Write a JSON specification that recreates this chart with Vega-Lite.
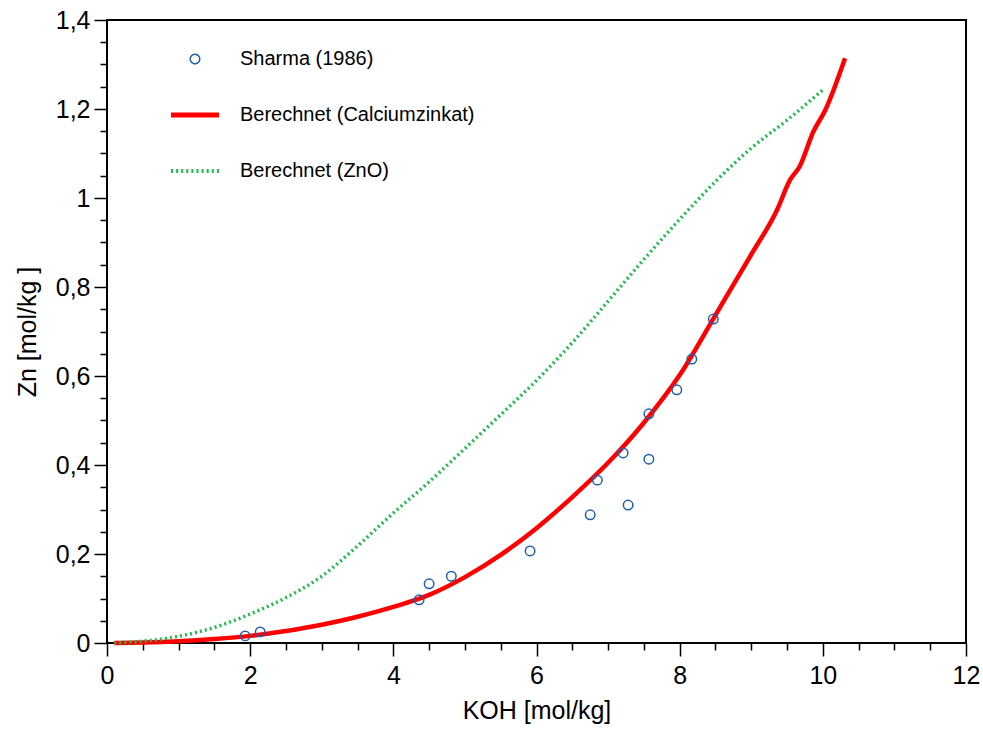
{
  "$schema": "https://vega.github.io/schema/vega-lite/v6.json",
  "width": 859,
  "height": 623,
  "autosize": {"type": "none"},
  "padding": {"left": 107, "top": 20, "right": 17, "bottom": 86},
  "background": "white",
  "config": {
    "view": {"stroke": "black", "strokeWidth": 2},
    "font": "Liberation Sans",
    "axis": {"labelFont": "Liberation Sans", "titleFont": "Liberation Sans", "labelColor": "black", "titleColor": "black", "tickColor": "black", "grid": false, "titleFontWeight": "normal"}
  },
  "data": {
    "values": [
      {"series": "Sharma (1986)", "koh": 1.93, "zn": 0.016},
      {"series": "Sharma (1986)", "koh": 2.14, "zn": 0.025},
      {"series": "Sharma (1986)", "koh": 4.36, "zn": 0.097},
      {"series": "Sharma (1986)", "koh": 4.50, "zn": 0.133},
      {"series": "Sharma (1986)", "koh": 4.81, "zn": 0.150},
      {"series": "Sharma (1986)", "koh": 5.91, "zn": 0.207},
      {"series": "Sharma (1986)", "koh": 6.75, "zn": 0.288},
      {"series": "Sharma (1986)", "koh": 6.85, "zn": 0.366},
      {"series": "Sharma (1986)", "koh": 7.21, "zn": 0.427},
      {"series": "Sharma (1986)", "koh": 7.28, "zn": 0.310},
      {"series": "Sharma (1986)", "koh": 7.57, "zn": 0.515},
      {"series": "Sharma (1986)", "koh": 7.57, "zn": 0.413},
      {"series": "Sharma (1986)", "koh": 7.96, "zn": 0.569},
      {"series": "Sharma (1986)", "koh": 8.17, "zn": 0.638},
      {"series": "Sharma (1986)", "koh": 8.47, "zn": 0.728},

      {"series": "Berechnet (Calciumzinkat)", "koh": 0.1, "zn": 0.0},
      {"series": "Berechnet (Calciumzinkat)", "koh": 0.5, "zn": 0.001},
      {"series": "Berechnet (Calciumzinkat)", "koh": 1.0, "zn": 0.004},
      {"series": "Berechnet (Calciumzinkat)", "koh": 1.5, "zn": 0.009},
      {"series": "Berechnet (Calciumzinkat)", "koh": 2.0, "zn": 0.016},
      {"series": "Berechnet (Calciumzinkat)", "koh": 2.5, "zn": 0.027},
      {"series": "Berechnet (Calciumzinkat)", "koh": 3.0, "zn": 0.041},
      {"series": "Berechnet (Calciumzinkat)", "koh": 3.5, "zn": 0.059},
      {"series": "Berechnet (Calciumzinkat)", "koh": 4.0, "zn": 0.081},
      {"series": "Berechnet (Calciumzinkat)", "koh": 4.5, "zn": 0.108},
      {"series": "Berechnet (Calciumzinkat)", "koh": 5.0, "zn": 0.148},
      {"series": "Berechnet (Calciumzinkat)", "koh": 5.5, "zn": 0.198},
      {"series": "Berechnet (Calciumzinkat)", "koh": 6.0, "zn": 0.258},
      {"series": "Berechnet (Calciumzinkat)", "koh": 6.5, "zn": 0.328},
      {"series": "Berechnet (Calciumzinkat)", "koh": 7.0, "zn": 0.405},
      {"series": "Berechnet (Calciumzinkat)", "koh": 7.5, "zn": 0.495},
      {"series": "Berechnet (Calciumzinkat)", "koh": 8.0, "zn": 0.602},
      {"series": "Berechnet (Calciumzinkat)", "koh": 8.5, "zn": 0.737},
      {"series": "Berechnet (Calciumzinkat)", "koh": 9.0, "zn": 0.873},
      {"series": "Berechnet (Calciumzinkat)", "koh": 9.36, "zn": 0.973},
      {"series": "Berechnet (Calciumzinkat)", "koh": 9.54, "zn": 1.040},
      {"series": "Berechnet (Calciumzinkat)", "koh": 9.68, "zn": 1.072},
      {"series": "Berechnet (Calciumzinkat)", "koh": 9.87, "zn": 1.150},
      {"series": "Berechnet (Calciumzinkat)", "koh": 10.03, "zn": 1.196},
      {"series": "Berechnet (Calciumzinkat)", "koh": 10.31, "zn": 1.314},

      {"series": "Berechnet (ZnO)", "koh": 0.1, "zn": 0.0},
      {"series": "Berechnet (ZnO)", "koh": 0.5, "zn": 0.004},
      {"series": "Berechnet (ZnO)", "koh": 1.0, "zn": 0.015},
      {"series": "Berechnet (ZnO)", "koh": 1.5, "zn": 0.035},
      {"series": "Berechnet (ZnO)", "koh": 2.0, "zn": 0.065},
      {"series": "Berechnet (ZnO)", "koh": 2.5, "zn": 0.102},
      {"series": "Berechnet (ZnO)", "koh": 3.0, "zn": 0.150},
      {"series": "Berechnet (ZnO)", "koh": 3.5, "zn": 0.218},
      {"series": "Berechnet (ZnO)", "koh": 4.0, "zn": 0.292},
      {"series": "Berechnet (ZnO)", "koh": 4.5, "zn": 0.362},
      {"series": "Berechnet (ZnO)", "koh": 5.0, "zn": 0.437},
      {"series": "Berechnet (ZnO)", "koh": 5.5, "zn": 0.513},
      {"series": "Berechnet (ZnO)", "koh": 6.0, "zn": 0.590},
      {"series": "Berechnet (ZnO)", "koh": 6.5, "zn": 0.675},
      {"series": "Berechnet (ZnO)", "koh": 7.0, "zn": 0.768},
      {"series": "Berechnet (ZnO)", "koh": 7.5, "zn": 0.862},
      {"series": "Berechnet (ZnO)", "koh": 8.0, "zn": 0.952},
      {"series": "Berechnet (ZnO)", "koh": 8.5, "zn": 1.037},
      {"series": "Berechnet (ZnO)", "koh": 9.0, "zn": 1.112},
      {"series": "Berechnet (ZnO)", "koh": 9.5, "zn": 1.175},
      {"series": "Berechnet (ZnO)", "koh": 10.0, "zn": 1.243}
    ]
  },
  "resolve": {"axis": {"x": "independent", "y": "independent"}},
  "layer": [
    {
      "transform": [{"filter": "datum.series === 'Berechnet (Calciumzinkat)'"}],
      "mark": {"type": "line", "strokeWidth": 4.5, "interpolate": "monotone"},
      "encoding": {
        "x": {"field": "koh", "type": "quantitative", "scale": {"domain": [0, 12], "nice": false},
              "axis": {"orient": "bottom", "values": [0, 2, 4, 6, 8, 10, 12], "title": "KOH [mol/kg]", "titleFontSize": 25, "labelFontSize": 25, "tickSize": 13, "tickWidth": 1.5, "labelPadding": 7, "titlePadding": 10, "domain": false, "labelFlush": false}},
        "y": {"field": "zn", "type": "quantitative", "scale": {"domain": [0, 1.4], "nice": false},
              "axis": {"orient": "left", "values": [0, 0.2, 0.4, 0.6, 0.8, 1, 1.2, 1.4], "title": "Zn [mol/kg ]", "titleFontSize": 25, "labelFontSize": 25, "tickSize": 13, "tickWidth": 1.5, "labelPadding": 4, "titlePadding": 15, "domain": false, "labelFlush": false,
                       "labelExpr": "replace(format(datum.value, '~g'), '.', ',')"}},
        "color": {"field": "series", "type": "nominal",
                  "scale": {"domain": ["Sharma (1986)", "Berechnet (Calciumzinkat)", "Berechnet (ZnO)"], "range": ["#1f5fb0", "#ff0000", "#1fba4a"]},
                  "legend": {
                    "orient": "none", "legendX": 78, "legendY": 29, "title": null, "padding": 0,
                    "labelFontSize": 20, "labelFont": "Liberation Sans", "labelColor": "black", "labelOffset": 35, "rowPadding": 36, "labelLimit": 0,
                    "symbolType": "stroke", "symbolSize": 2304,
                    "encode": {
                      "symbols": {
                        "update": {
                          "shape": {"signal": "datum.value === 'Sharma (1986)' ? 'circle' : 'stroke'"},
                          "size": {"signal": "datum.value === 'Sharma (1986)' ? 90 : 2304"},
                          "strokeWidth": {"signal": "datum.value === 'Sharma (1986)' ? 1.5 : (datum.value === 'Berechnet (ZnO)' ? 4 : 5)"},
                          "strokeDash": {"signal": "datum.value === 'Berechnet (ZnO)' ? [2, 3.1] : [1, 0]"},
                          "fill": {"value": "transparent"},
                          "opacity": {"value": 1}
                        }
                      }
                    }
                  }}
      }
    },
    {
      "transform": [{"filter": "datum.series === 'Berechnet (ZnO)'"}],
      "mark": {"type": "line", "strokeWidth": 3.5, "strokeDash": [2, 3.1], "interpolate": "monotone"},
      "encoding": {
        "x": {"field": "koh", "type": "quantitative",
              "axis": {"orient": "bottom", "values": [0.5, 1, 1.5, 2.5, 3, 3.5, 4.5, 5, 5.5, 6.5, 7, 7.5, 8.5, 9, 9.5, 10.5, 11, 11.5], "labels": false, "title": null, "tickSize": 7, "tickWidth": 1.5, "domain": false}},
        "y": {"field": "zn", "type": "quantitative",
              "axis": {"orient": "left", "values": [0.05, 0.1, 0.15, 0.25, 0.3, 0.35, 0.45, 0.5, 0.55, 0.65, 0.7, 0.75, 0.85, 0.9, 0.95, 1.05, 1.1, 1.15, 1.25, 1.3, 1.35], "labels": false, "title": null, "tickSize": 7, "tickWidth": 1.5, "domain": false}},
        "color": {"field": "series", "type": "nominal"}
      }
    },
    {
      "transform": [{"filter": "datum.series === 'Sharma (1986)'"}],
      "mark": {"type": "point", "filled": false, "size": 90, "strokeWidth": 1.5, "opacity": 1},
      "encoding": {
        "x": {"field": "koh", "type": "quantitative", "axis": null},
        "y": {"field": "zn", "type": "quantitative", "axis": null},
        "color": {"field": "series", "type": "nominal"}
      }
    }
  ]
}
